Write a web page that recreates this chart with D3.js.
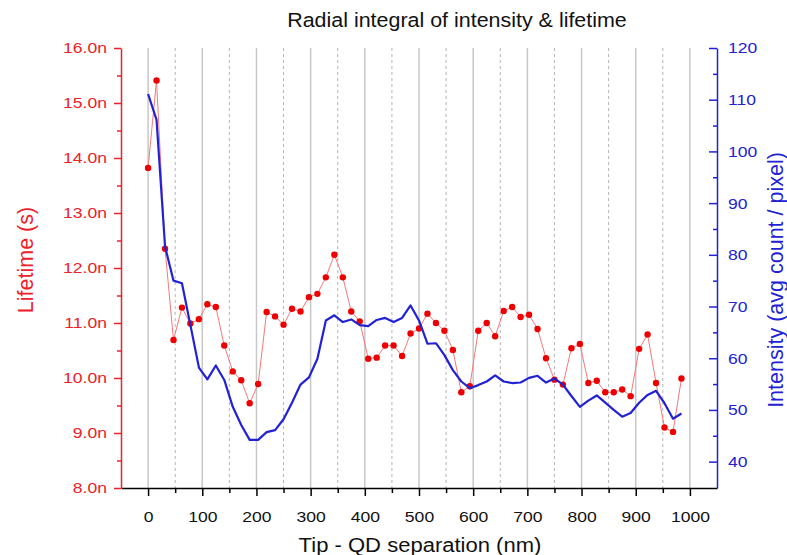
<!DOCTYPE html>
<html>
<head>
<meta charset="utf-8">
<script src="https://cdn.jsdelivr.net/npm/d3@7"></script>
<style>
  body { margin: 0; background: #fff; }
  text { font-family: "Liberation Sans", Arial, sans-serif; }
</style>
</head>
<body>
<svg width="787" height="555"></svg>
<script>
// tip - QD separation (nm)
const separation = [0, 15.6, 31.3, 46.9, 62.5, 78.1, 93.8, 109.4, 125, 140.6, 156.3, 171.9, 187.5, 203.1, 218.8, 234.4,
  250, 265.6, 281.3, 296.9, 312.5, 328.1, 343.8, 359.4, 375, 390.6, 406.3, 421.9, 437.5, 453.1, 468.8, 484.4,
  500, 515.6, 531.3, 546.9, 562.5, 578.1, 593.8, 609.4, 625, 640.6, 656.3, 671.9, 687.5, 703.1, 718.8, 734.4,
  750, 765.6, 781.3, 796.9, 812.5, 828.1, 843.8, 859.4, 875, 890.6, 906.3, 921.9, 937.5, 953.1, 968.8, 984.4];
// lifetime, in ns
const lifetime = [13.82, 15.41, 12.35, 10.69, 11.28, 10.99, 11.07, 11.34, 11.29, 10.59, 10.12, 9.96, 9.54, 9.89, 11.20, 11.12,
  10.97, 11.26, 11.21, 11.47, 11.53, 11.83, 12.24, 11.83, 11.21, 11.03, 10.35, 10.37, 10.59, 10.59, 10.40, 10.81,
  10.90, 11.17, 11.00, 10.86, 10.51, 9.74, 9.85, 10.86, 11.00, 10.76, 11.22, 11.29, 11.11, 11.15, 10.89, 10.36,
  9.97, 9.88, 10.54, 10.62, 9.91, 9.95, 9.74, 9.74, 9.79, 9.67, 10.53, 10.79, 9.91, 9.10, 9.02, 9.99];
// intensity (avg count / pixel)
const intensity = [111.1, 106.1, 81.6, 75.0, 74.5, 66.4, 58.2, 55.9, 58.6, 55.8, 50.6, 47.1, 44.2, 44.2, 45.7, 46.1,
  48.2, 51.4, 54.9, 56.3, 59.9, 67.3, 68.3, 67.0, 67.5, 66.4, 66.2, 67.4, 67.8, 67.0, 67.8, 70.2,
  67.3, 62.8, 62.9, 60.6, 57.7, 55.5, 54.2, 54.8, 55.5, 56.7, 55.5, 55.2, 55.3, 56.2, 56.6, 55.3,
  56.1, 54.9, 52.7, 50.6, 51.8, 52.8, 51.4, 50.0, 48.7, 49.4, 51.4, 52.9, 53.7, 51.3, 48.3, 49.3];

const xTicks = [0, 100, 200, 300, 400, 500, 600, 700, 800, 900, 1000];
const xMinor = [50, 150, 250, 350, 450, 550, 650, 750, 850, 950];
const lifeTicks = [8, 9, 10, 11, 12, 13, 14, 15, 16];
const lifeMinor = [8.5, 9.5, 10.5, 11.5, 12.5, 13.5, 14.5, 15.5];
const intTicks = [40, 50, 60, 70, 80, 90, 100, 110, 120];
const intMinor = [45, 55, 65, 75, 85, 95, 105, 115];

const RED = '#ec2228', BLUE = '#2222d4';
const L = 121, R = 717, T = 48, B = 488;
const svg = d3.select('svg');

const x = d3.scaleLinear().domain([-50, 1050]).range([L, R]);
const yL = d3.scaleLinear().domain([8, 16]).range([B, T]);
const yR = d3.scaleLinear().domain([34.9, 120]).range([B, T]);

// vertical grid
svg.append('g').selectAll('line').data(xTicks).join('line')
  .attr('x1', d => x(d)).attr('x2', d => x(d)).attr('y1', T).attr('y2', B)
  .attr('stroke', '#c8c8c8').attr('stroke-width', 1.5);
svg.append('g').selectAll('line').data(xMinor).join('line')
  .attr('x1', d => x(d)).attr('x2', d => x(d)).attr('y1', T).attr('y2', B)
  .attr('stroke', '#b4b4b4').attr('stroke-width', 1).attr('stroke-dasharray', '3,3');

const stretch = (sel, k) => sel.attr('transform', `scale(${k},1)`);

// bottom axis
const gx = svg.append('g').attr('transform', `translate(0,${B})`)
  .call(d3.axisBottom(x).tickValues(xTicks).tickSize(8).tickSizeOuter(0).tickPadding(15)
    .tickFormat(d3.format('d')));
svg.append('g').attr('transform', `translate(0,${B})`)
  .call(d3.axisBottom(x).tickValues(xMinor).tickSize(5).tickFormat(''))
  .call(g => g.select('.domain').remove());
gx.selectAll('text').attr('font-size', 15.4).attr('fill', '#111').call(stretch, 1.14);
svg.selectAll('.tick line').attr('stroke-width', 1.5);
gx.select('.domain').attr('stroke-width', 1.5);

// left axis
const gl = svg.append('g').attr('transform', `translate(${L},0)`)
  .call(d3.axisLeft(yL).tickValues(lifeTicks).tickSize(7).tickSizeOuter(0).tickPadding(5.3)
    .tickFormat(d => d.toFixed(1) + 'n'));
svg.append('g').attr('transform', `translate(${L},0)`)
  .call(d3.axisLeft(yL).tickValues(lifeMinor).tickSize(4).tickFormat(''))
  .call(g => g.select('.domain').remove())
  .selectAll('line').attr('stroke', RED).attr('stroke-width', 1.5);
gl.selectAll('line,path').attr('stroke', RED).attr('stroke-width', 1.5);
gl.selectAll('text').attr('fill', RED).attr('font-size', 15.4).call(stretch, 1.14);

// right axis, ticks pointing inward
const gr = svg.append('g').attr('transform', `translate(${R},0)`)
  .call(d3.axisRight(yR).tickValues(intTicks).tickSizeInner(-8).tickSizeOuter(0).tickPadding(9.6));
svg.append('g').attr('transform', `translate(${R},0)`)
  .call(d3.axisRight(yR).tickValues(intMinor).tickSizeInner(-4).tickFormat(''))
  .call(g => g.select('.domain').remove())
  .selectAll('line').attr('stroke', BLUE).attr('stroke-width', 1.5);
gr.selectAll('line,path').attr('stroke', BLUE).attr('stroke-width', 1.5);
gr.selectAll('text').attr('fill', BLUE).attr('font-size', 15.4).call(stretch, 1.14);

// lifetime series
const pts = separation.map((s, i) => ({ s, life: lifetime[i], inten: intensity[i] }));
svg.append('path').datum(pts)
  .attr('fill', 'none').attr('stroke', '#f27a7a').attr('stroke-width', 1)
  .attr('d', d3.line().x(d => x(d.s)).y(d => yL(d.life)));
svg.append('g').selectAll('circle').data(pts).join('circle')
  .attr('cx', d => x(d.s)).attr('cy', d => yL(d.life)).attr('r', 3.2)
  .attr('fill', '#ee0000');

// intensity series
svg.append('path').datum(pts)
  .attr('fill', 'none').attr('stroke', BLUE).attr('stroke-width', 2.2)
  .attr('stroke-linejoin', 'round')
  .attr('d', d3.line().x(d => x(d.s)).y(d => yR(d.inten)));

// titles
svg.append('text').attr('transform', 'translate(457,27) scale(1.1,1)')
  .attr('text-anchor', 'middle').attr('font-size', 19.5).attr('fill', '#111')
  .text('Radial integral of intensity & lifetime');
svg.append('text').attr('transform', 'translate(420,552) scale(1.13,1)')
  .attr('text-anchor', 'middle').attr('font-size', 19.5).attr('fill', '#111')
  .text('Tip - QD separation (nm)');
svg.append('text').attr('transform', 'translate(33,260) rotate(-90)')
  .attr('text-anchor', 'middle').attr('font-size', 21.5).attr('fill', RED)
  .text('Lifetime (s)');
svg.append('text').attr('transform', 'translate(783,280) rotate(-90)')
  .attr('text-anchor', 'middle').attr('font-size', 21.5).attr('fill', BLUE)
  .text('Intensity (avg count / pixel)');
</script>
</body>
</html>
